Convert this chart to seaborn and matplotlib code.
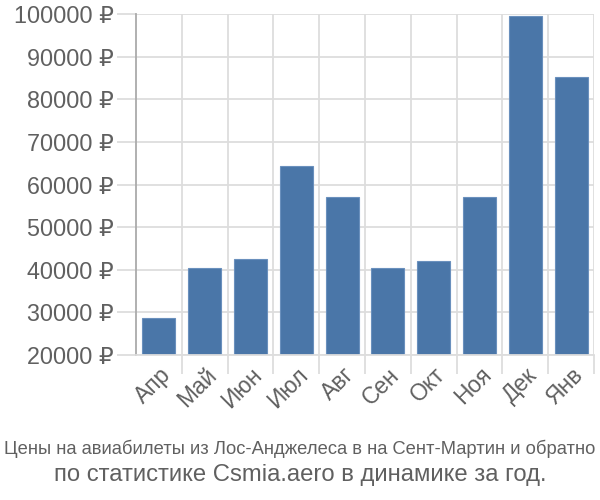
import matplotlib
matplotlib.use("Agg")
import matplotlib.pyplot as plt
import seaborn as sns
import pandas as pd
import numpy as np
from matplotlib.ticker import FixedLocator, FuncFormatter

months = ["Апр", "Май", "Июн", "Июл", "Авг", "Сен", "Окт", "Ноя", "Дек", "Янв"]
prices = [28700, 40400, 42500, 64300, 57100, 40400, 42000, 57100, 99500, 85200]
yticks = [20000, 30000, 40000, 50000, 60000, 70000, 80000, 90000, 100000]
title1 = "Цены на авиабилеты из Лос-Анджелеса в на Сент-Мартин и обратно"
title2 = "по статистике Csmia.aero в динамике за год."

sns.set_theme(style="white")
plt.rcParams['font.family'] = ['Liberation Sans', 'DejaVu Sans']

df = pd.DataFrame({"month": months, "price": prices})

fig = plt.figure(figsize=(6, 5), dpi=100)
ax = fig.add_axes([136/600, 1-355/500, (594-136)/600, (355-14)/500])

sns.barplot(data=df, x="month", y="price", ax=ax, color="#4a76a8",
            saturation=1, width=0.72, edgecolor="#6a90bd", linewidth=0.8)
ax.set_ylim(20000, 100000)
ax.set_xlim(-0.5, len(months) - 0.5)

grid_c = "#dddddd"
txt_c = "#606060"
ax.yaxis.set_major_locator(FixedLocator(yticks))
ax.yaxis.set_major_formatter(FuncFormatter(lambda v, p: f"{int(v)} ₽"))
ax.grid(axis="y", color=grid_c, linewidth=1.3)
ax.set_xticks(np.arange(len(months)))
ax.set_xticklabels(months, rotation=45, ha="right", rotation_mode="anchor")
ax.set_xticks(np.arange(len(months)) + 0.5, minor=True)
ax.grid(axis="x", which="minor", color=grid_c, linewidth=1.3)
ax.set_axisbelow(True)

ax.tick_params(axis="y", which="major", length=14, width=1.3, color=grid_c,
               labelsize=16.8, labelcolor=txt_c, pad=2, left=True)
ax.tick_params(axis="x", which="major", length=0, labelsize=16.5,
               labelcolor=txt_c, pad=6)
ax.tick_params(axis="x", which="minor", length=14, width=1.3, color=grid_c,
               bottom=True)

for s in ["top", "right"]:
    ax.spines[s].set_visible(False)
ax.spines["bottom"].set_color(grid_c)
ax.spines["bottom"].set_linewidth(1.3)
ax.spines["left"].set_color("#aaaaaa")
ax.spines["left"].set_linewidth(1.3)
ax.set_xlabel("")
ax.set_ylabel("")

fig.text(0.5, 1-449/500, title1, ha="center", va="center", fontsize=13.2,
         color=txt_c)
fig.text(0.5, 1-475/500, title2, ha="center", va="center", fontsize=17.2,
         color=txt_c)

fig.savefig("out.png", dpi=100)
